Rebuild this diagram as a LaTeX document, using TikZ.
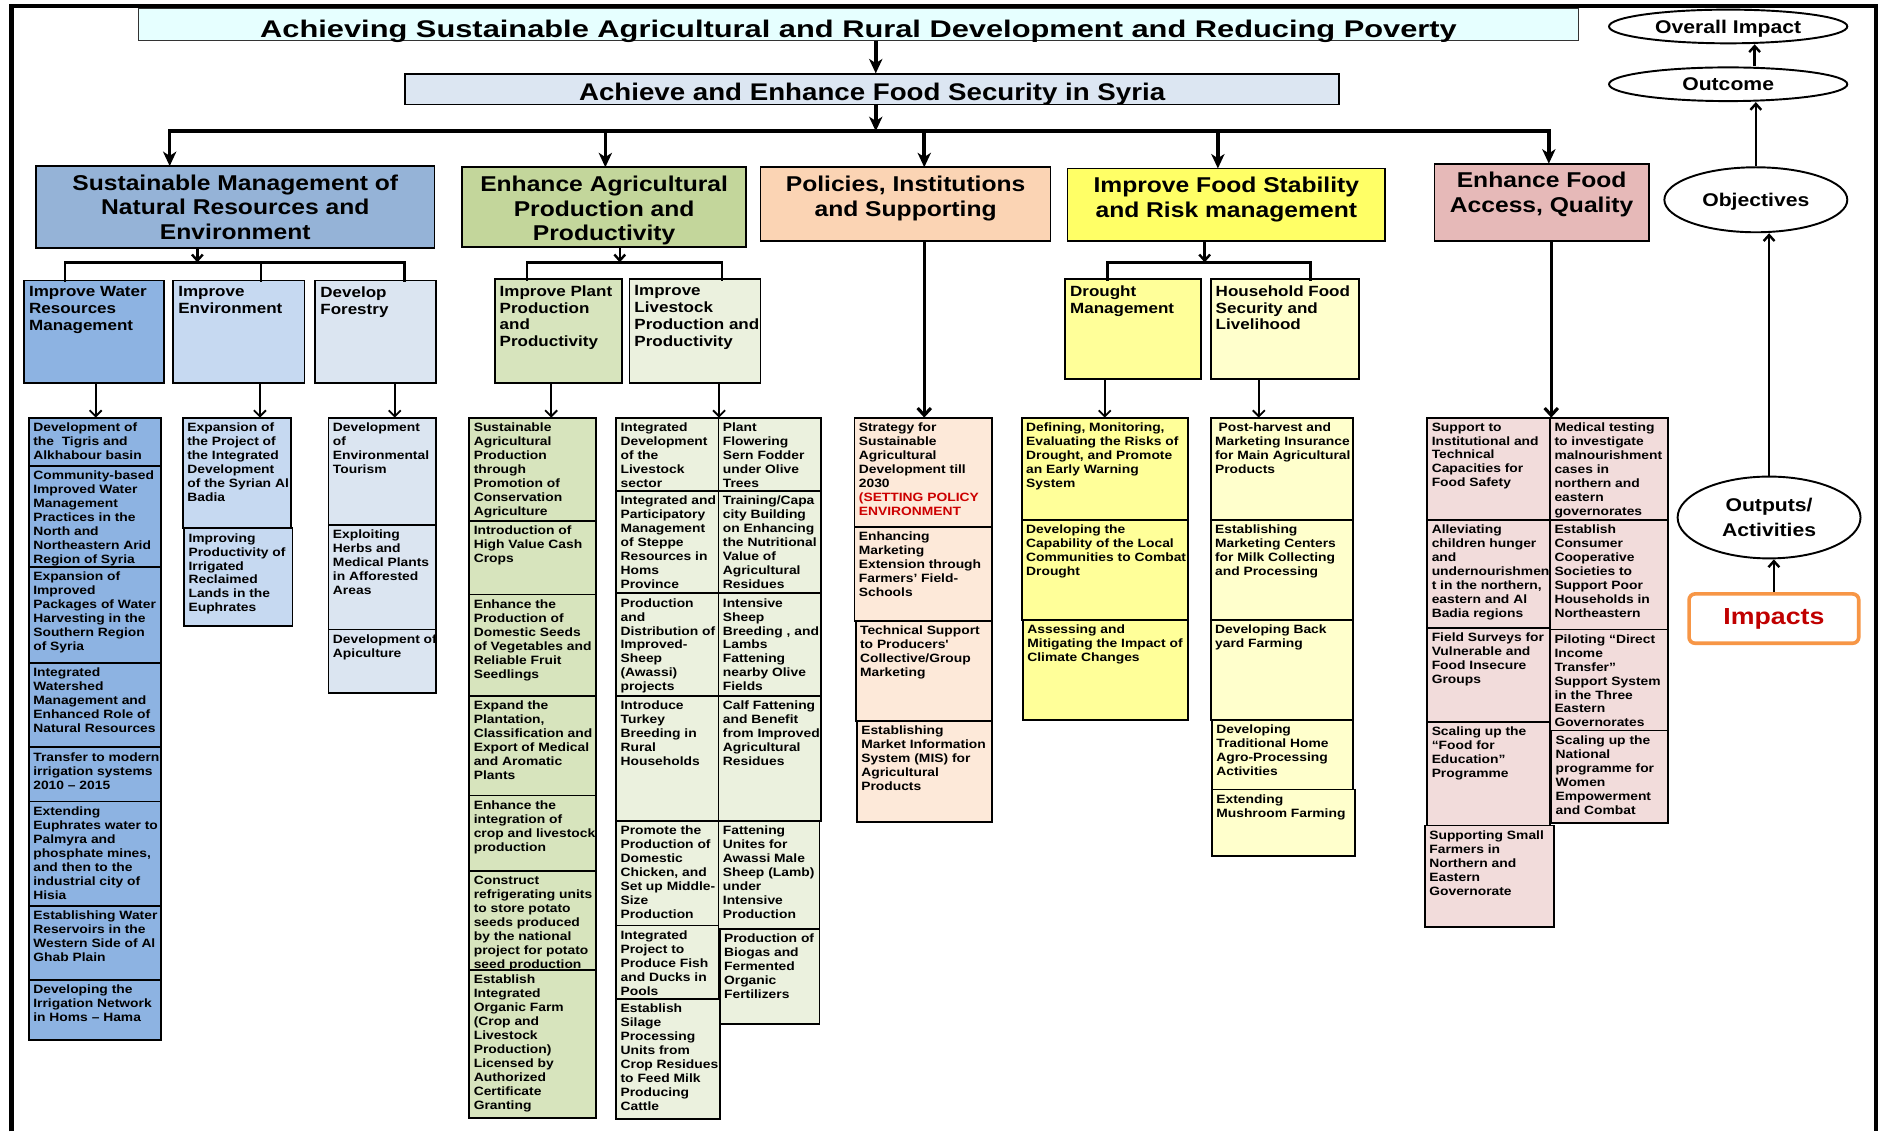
\documentclass[tikz,border=0pt]{standalone}
\usepackage{fontspec}
\setmainfont{Liberation Sans}
\newfontfamily\lsb[FakeStretch=1.15]{Liberation Sans}
\newfontfamily\lst[FakeStretch=1.28]{Liberation Sans}
\usetikzlibrary{arrows.meta,calc,shapes.geometric}

\definecolor{ctitle}{HTML}{E6FFFF}
\definecolor{cach}{HTML}{DCE6F2}
\definecolor{csust}{HTML}{95B3D7}
\definecolor{cwater}{HTML}{8DB3E2}
\definecolor{cenv}{HTML}{C6D9F1}
\definecolor{cfor}{HTML}{DBE5F1}
\definecolor{cagri}{HTML}{C3D69B}
\definecolor{cplant}{HTML}{D7E4BD}
\definecolor{clive}{HTML}{EBF1DE}
\definecolor{cpol}{HTML}{FBD4B4}
\definecolor{cpols}{HTML}{FDE9D9}
\definecolor{cstab}{HTML}{FFFF66}
\definecolor{cdro}{HTML}{FFFF99}
\definecolor{chou}{HTML}{FFFFCC}
\definecolor{cacc}{HTML}{E6B9B8}
\definecolor{caccs}{HTML}{F2DCDB}
\definecolor{cred}{HTML}{CC0000}
\definecolor{cimp}{HTML}{C00000}
\definecolor{corange}{HTML}{F79646}

% name, x1, y1, x2, y2, fill, text
\newcommand{\cellbox}[7]{%
  \node[cellb, fill=#6, minimum width={(#4)-(#2)}, minimum height={(#5)-(#3)}, anchor=north west] (#1) at (#2,#3) {};
  \node[celltxt, anchor=north west] (#1t) at ($(#1.north west)+(3.5,4)$) {#7};
}
\newcommand{\subhead}[7]{%
  \node[cellb, fill=#6, minimum width={(#4)-(#2)}, minimum height={(#5)-(#3)}, anchor=north west] (#1) at (#2,#3) {};
  \node[subtxt, anchor=north west] (#1t) at ($(#1.north west)+(4,5)$) {#7};
}
\newcommand{\hdbox}[7]{%
  \node[hdb, fill=#6, minimum width={(#4)-(#2)}, minimum height={(#5)-(#3)}, anchor=north west] (#1) at (#2,#3) {};
  \node[hdtxt, anchor=north] (#1t) at ($(#1.north)+(0,7)$) {#7};
}

\begin{document}
\begin{tikzpicture}[x=1pt,y=-1pt,
  cellb/.style={draw, line width=1.5pt, inner sep=0pt, outer sep=0pt},
  hdb/.style={draw, line width=1.4pt, inner sep=0pt, outer sep=0pt},
  celltxt/.style={inner sep=0pt, align=left, font=\lsb\bfseries\fontsize{10}{11.6}\selectfont},
  subtxt/.style={inner sep=0pt, align=left, font=\lsb\bfseries\fontsize{12.3}{14}\selectfont},
  hdtxt/.style={inner sep=0pt, align=center, font=\lsb\bfseries\fontsize{17.8}{20.5}\selectfont},
  ell/.style={draw, ellipse, line width=1.6pt, inner sep=0pt, text depth=0pt, align=center, font=\lsb\bfseries\fontsize{15.3}{21}\selectfont},
  bus/.style={line width=3pt, line cap=rect},
  busarr/.style={line width=3pt, -{Stealth[length=12pt,width=11pt,inset=3.5pt]}},
  subbus/.style={line width=2.2pt, line cap=rect},
  subarr/.style={line width=2pt, -{Straight Barb[length=5pt,width=9pt]}},
  thinarr/.style={line width=1.5pt, -{Straight Barb[length=5pt,width=10pt]}},
  longarr/.style={line width=2.6pt, -{Straight Barb[length=6pt,width=11pt]}},
  ellarr/.style={line width=2pt, -{Straight Barb[length=5pt,width=9pt]}}
]
\useasboundingbox (0,0) rectangle (1568,940);
\fill[white] (0,0) rectangle (1568,940);

% outer frame
\draw[line width=3.5pt] (9.5,940) -- (9.5,5) -- (1559,5) -- (1559,940);

% title and goal
\node[draw=black!80, line width=0.8pt, fill=ctitle, inner sep=0pt, minimum width=1196, minimum height=26, anchor=north west] (ttl) at (115,7) {};
\node[inner sep=0pt, anchor=base, font=\lst\bfseries\fontsize{20}{24}\selectfont] (ttlt) at ($(ttl.south)+(0,-3)$) {Achieving Sustainable Agricultural and Rural Development and Reducing Poverty};
\node[draw, line width=1.4pt, fill=cach, inner sep=0pt, minimum width=776, minimum height=25, anchor=north west] (ach) at (336,61) {};
\node[inner sep=0pt, anchor=base, font=\lsb\bfseries\fontsize{20}{24}\selectfont] (acht) at ($(ach.south)+(0,-4)$) {Achieve and Enhance Food Security in Syria};

% headers
\hdbox{sust}{30}{138}{361}{206}{csust}{Sustainable Management of\\Natural Resources and\\Environment}
\hdbox{agri}{384}{139}{620}{205}{cagri}{Enhance Agricultural\\Production and\\Productivity}
\hdbox{pol}{632}{139}{873}{200}{cpol}{Policies, Institutions\\and Supporting}
\hdbox{stab}{887}{140}{1151}{200}{cstab}{Improve Food Stability\\and Risk management}
\hdbox{acc}{1192}{136}{1370}{200}{cacc}{Enhance Food\\Access, Quality}

% main arrows and bus
\path (ach.north) ++(3,0) coordinate (achtop);
\draw[busarr] (achtop |- ttl.south) -- (achtop);
\coordinate (busL) at (141,109);
\coordinate (busR) at (1287,109);
\coordinate (j2) at (503,109);
\coordinate (j3) at (768,109);
\coordinate (j4) at (1012,109);
\path (ach.south) ++(3,0) coordinate (achbot);
\draw[bus] (busL) -- (busR);
\draw[busarr] (achbot) -- (achbot |- busL);
\draw[busarr] (busL) -- (busL |- sust.north);
\draw[busarr] (j2) -- (j2 |- agri.north);
\draw[busarr] (j3) -- (j3 |- pol.north);
\draw[busarr] (j4) -- (j4 |- stab.north);
\draw[busarr] (busR) -- (busR |- acc.north);

% sub headings
\subhead{wat}{20}{233}{136}{318}{cwater}{Improve Water\\Resources\\Management}
\subhead{env}{144}{233}{253}{318}{cenv}{Improve\\Environment}
\subhead{for}{262}{233}{362}{318}{cfor}{Develop\\Forestry}
\subhead{pla}{411}{232}{517}{318}{cplant}{Improve Plant\\Production\\and\\Productivity}
\subhead{liv}{523}{232}{632}{318}{clive}{Improve\\Livestock\\Production and\\Productivity}
\subhead{dro}{885}{232}{998}{315}{cdro}{Drought\\Management}
\subhead{hou}{1006}{232}{1129}{315}{chou}{Household Food\\Security and\\Livelihood}

% sub-buses
\path (sust.south west) ++(134,0) coordinate (sA);
\coordinate (sB1) at (54,218);
\coordinate (sB2) at (217,218);
\coordinate (sB3) at (336,218);
\draw[subarr] (sA) -- (sA |- sB1);
\draw[subbus] (sB1) -- (sB3);
\draw[subbus] (sB1) -- (sB1 |- wat.north);
\draw[subbus] (sB2) -- (sB2 |- env.north);
\draw[subbus] (sB3) -- (sB3 |- for.north);

\path (agri.south west) ++(131,0) coordinate (gA);
\coordinate (gB1) at (438,218);
\coordinate (gB2) at (600,218);
\draw[subarr] (gA) -- (gA |- gB1);
\draw[subbus] (gB1) -- (gB2);
\draw[subbus] (gB1) -- (gB1 |- pla.north);
\draw[subbus] (gB2) -- (gB2 |- liv.north);

\path (stab.south west) ++(114,0) coordinate (tA);
\coordinate (tB1) at (920,218);
\coordinate (tB2) at (1089,218);
\draw[subarr] (tA) -- (tA |- tB1);
\draw[subbus] (tB1) -- (tB2);
\draw[subbus] (tB1) -- (tB1 |- dro.north);
\draw[subbus] (tB2) -- (tB2 |- hou.north);

% water
\cellbox{w1}{24}{347}{134}{387}{cwater}{Development of\\the\ \ Tigris and\\Alkhabour basin}
\cellbox{w2}{24}{387}{134}{471}{cwater}{Community-based\\Improved Water\\Management\\Practices in the\\North and\\Northeastern Arid\\Region of Syria}
\cellbox{w3}{24}{471}{134}{551}{cwater}{Expansion of\\Improved\\Packages of Water\\Harvesting in the\\Southern Region\\of Syria}
\cellbox{w4}{24}{551}{134}{621}{cwater}{Integrated\\Watershed\\Management and\\Enhanced Role of\\Natural Resources}
\cellbox{w5}{24}{621}{134}{666}{cwater}{Transfer to modern\\irrigation systems\\2010 – 2015}
\cellbox{w6}{24}{666}{134}{753}{cwater}{Extending\\Euphrates water to\\Palmyra and\\phosphate mines,\\and then to the\\industrial city of\\Hisia}
\cellbox{w7}{24}{753}{134}{814}{cwater}{Establishing Water\\Reservoirs in the\\Western Side of Al\\Ghab Plain}
\cellbox{w8}{24}{814}{134}{864}{cwater}{Developing the\\Irrigation Network\\in Homs – Hama}

% environment
\cellbox{e1}{152}{347}{242}{439}{cenv}{Expansion of\\the Project of\\the Integrated\\Development\\of the Syrian Al\\Badia}
\cellbox{e2}{153}{439}{243}{520}{cenv}{Improving\\Productivity of\\Irrigated\\Reclaimed\\Lands in the\\Euphrates}

% forestry
\cellbox{f1}{273}{347}{362}{436}{cfor}{Development\\of\\Environmental\\Tourism}
\cellbox{f2}{273}{436}{362}{523}{cfor}{Exploiting\\Herbs and\\Medical Plants\\in Afforested\\Areas}
\cellbox{f3}{273}{523}{362}{576}{cfor}{Development of\\Apiculture}

% plant
\cellbox{p1}{390}{347}{495}{433}{cplant}{Sustainable\\Agricultural\\Production\\through\\Promotion of\\Conservation\\Agriculture}
\cellbox{p2}{390}{433}{495}{494}{cplant}{Introduction of\\High Value Cash\\Crops}
\cellbox{p3}{390}{494}{495}{578}{cplant}{Enhance the\\Production of\\Domestic Seeds\\of Vegetables and\\Reliable Fruit\\Seedlings}
\cellbox{p4}{390}{578}{495}{661}{cplant}{Expand the\\Plantation,\\Classification and\\Export of Medical\\and Aromatic\\Plants}
\cellbox{p5}{390}{661}{495}{724}{cplant}{Enhance the\\integration of\\crop and livestock\\production}
\cellbox{p6}{390}{724}{495}{806}{cplant}{Construct\\refrigerating units\\to store potato\\seeds produced\\by the national\\project for potato\\seed production}
\cellbox{p7}{390}{806}{495}{929}{cplant}{Establish\\Integrated\\Organic Farm\\(Crop and\\Livestock\\Production)\\Licensed by\\Authorized\\Certificate\\Granting}

% livestock
\cellbox{l1}{512}{347}{597}{408}{clive}{Integrated\\Development\\of the\\Livestock\\sector}
\cellbox{l2}{512}{408}{597}{493}{clive}{Integrated and\\Participatory\\Management\\of Steppe\\Resources in\\Homs\\Province}
\cellbox{l3}{512}{493}{597}{578}{clive}{Production\\and\\Distribution of\\Improved-\\Sheep\\(Awassi)\\projects}
\cellbox{l4}{512}{578}{597}{682}{clive}{Introduce\\Turkey\\Breeding in\\Rural\\Households}
\cellbox{l5}{512}{682}{597}{769}{clive}{Promote the\\Production of\\Domestic\\Chicken, and\\Set up Middle-\\Size\\Production}
\cellbox{l6}{512}{769}{597}{830}{clive}{Integrated\\Project to\\Produce Fish\\and Ducks in\\Pools}
\cellbox{l7}{512}{830}{598}{930}{clive}{Establish\\Silage\\Processing\\Units from\\Crop Residues\\to Feed Milk\\Producing\\Cattle}
\cellbox{r1}{597}{347}{682}{408}{clive}{Plant\\Flowering\\Sern Fodder\\under Olive\\Trees}
\cellbox{r2}{597}{408}{682}{493}{clive}{Training/Capa\\city Building\\on Enhancing\\the Nutritional\\Value of\\Agricultural\\Residues}
\cellbox{r3}{597}{493}{682}{578}{clive}{Intensive\\Sheep\\Breeding , and\\Lambs\\Fattening\\nearby Olive\\Fields}
\cellbox{r4}{597}{578}{682}{682}{clive}{Calf Fattening\\and Benefit\\from Improved\\Agricultural\\Residues}
\cellbox{r5}{597}{682}{681}{772}{clive}{Fattening\\Unites for\\Awassi Male\\Sheep (Lamb)\\under\\Intensive\\Production}
\cellbox{r6}{598}{772}{681}{851}{clive}{Production of\\Biogas and\\Fermented\\Organic\\Fertilizers}

% policies
\cellbox{q1}{710}{347}{824}{438}{cpols}{Strategy for\\Sustainable\\Agricultural\\Development till\\2030\\\textcolor{cred}{(SETTING POLICY}\\\textcolor{cred}{ENVIRONMENT}}
\cellbox{q2}{710}{438}{824}{516}{cpols}{Enhancing\\Marketing\\Extension through\\Farmers’ Field-\\Schools}
\cellbox{q3}{711}{516}{824}{599}{cpols}{Technical Support\\to Producers'\\Collective/Group\\Marketing}
\cellbox{q4}{712}{599}{824}{683}{cpols}{Establishing\\Market Information\\System (MIS) for\\Agricultural\\Products}

% drought
\cellbox{d1}{849}{347}{987}{432}{cdro}{Defining, Monitoring,\\Evaluating the Risks of\\Drought, and Promote\\an Early Warning\\System}
\cellbox{d2}{849}{432}{987}{515}{cdro}{Developing the\\Capability of the Local\\Communities to Combat\\Drought}
\cellbox{d3}{850}{515}{987}{598}{cdro}{Assessing and\\Mitigating the Impact of\\Climate Changes}

% household
\cellbox{h1}{1006}{347}{1124}{432}{chou}{\hspace{3pt}Post-harvest and\\Marketing Insurance\\for Main Agricultural\\Products}
\cellbox{h2}{1006}{432}{1124}{515}{chou}{Establishing\\Marketing Centers\\for Milk Collecting\\and Processing}
\cellbox{h3}{1006}{515}{1124}{598}{chou}{Developing Back\\yard Farming}
\cellbox{h4}{1007}{598}{1124}{656}{chou}{Developing\\Traditional Home\\Agro-Processing\\Activities}
\cellbox{h5}{1007}{656}{1126}{711}{chou}{Extending\\Mushroom Farming}

% access
\cellbox{a1}{1186}{347}{1288}{432}{caccs}{Support to\\Institutional and\\Technical\\Capacities for\\Food Safety}
\cellbox{a2}{1186}{432}{1288}{522}{caccs}{Alleviating\\children hunger\\and\\undernourishmen\\t in the northern,\\eastern and Al\\Badia regions}
\cellbox{a3}{1186}{522}{1288}{600}{caccs}{Field Surveys for\\Vulnerable and\\Food Insecure\\Groups}
\cellbox{a4}{1186}{600}{1288}{686}{caccs}{Scaling up the\\“Food for\\Education”\\Programme}
\cellbox{a5}{1184}{686}{1291}{770}{caccs}{Supporting Small\\Farmers in\\Northern and\\Eastern\\Governorate}
\cellbox{b1}{1288}{347}{1386}{432}{caccs}{Medical testing\\to investigate\\malnourishment\\cases in\\northern and\\eastern\\governorates}
\cellbox{b2}{1288}{432}{1386}{523}{caccs}{Establish\\Consumer\\Cooperative\\Societies to\\Support Poor\\Households in\\Northeastern}
\cellbox{b3}{1288}{523}{1386}{607}{caccs}{Piloting “Direct\\Income\\Transfer”\\Support System\\in the Three\\Eastern\\Governorates}
\cellbox{b4}{1289}{607}{1386}{684}{caccs}{Scaling up the\\National\\programme for\\Women\\Empowerment\\and Combat}

% arrows from sub headings
\path (wat.south west) ++(59.5,0) coordinate (wA);
\draw[thinarr] (wA) -- (wA |- w1.north);
\path (env.south west) ++(72,0) coordinate (eA);
\draw[thinarr] (eA) -- (eA |- e1.north);
\path (for.south west) ++(66,0) coordinate (fA);
\draw[thinarr] (fA) -- (fA |- f1.north);
\path (pla.south west) ++(47,0) coordinate (pA);
\draw[thinarr] (pA) -- (pA |- p1.north);
\path (liv.south west) ++(74.5,0) coordinate (lA);
\draw[thinarr] (lA) -- (lA |- l1.north);
\path (dro.south west) ++(33,0) coordinate (dA);
\draw[thinarr] (dA) -- (dA |- d1.north);
\path (hou.south west) ++(40,0) coordinate (hA);
\draw[thinarr] (hA) -- (hA |- h1.north);
\path (pol.south west) ++(136,0) coordinate (qA);
\draw[longarr] (qA) -- (qA |- q1.north);
\path (acc.south west) ++(97,0) coordinate (aA);
\draw[longarr] (aA) -- (aA |- a1.north);

% legend on the right
\node[ell, minimum width=198, minimum height=28] (oi) at (1436,22) {Overall Impact};
\node[ell, minimum width=198, minimum height=28] (oc) at (1436,70) {Outcome};
\node[ell, minimum width=152, minimum height=54] (ob) at (1459,166) {Objectives};
\node[ell, minimum width=152, minimum height=68] (out) at (1470,430) {Outputs/\\Activities};
\node[draw=corange, line width=3pt, rounded corners=5pt, fill=white, minimum width=141, minimum height=41, inner sep=0pt, anchor=north west, text=cimp, font=\lsb\bfseries\fontsize{19.3}{22}\selectfont] (imp) at (1402,492) {Impacts};

\path (oc.north) ++(22,0) coordinate (ocA);
\draw[ellarr] (ocA) -- (ocA |- oi.south);
\draw[ellarr] (ob.north) -- (ob.north |- oc.south);
\draw[ellarr] (out.north) -- (out.north |- ob.south);
\draw[ellarr] (imp.north) -- (imp.north |- out.south);
\end{tikzpicture}
\end{document}
